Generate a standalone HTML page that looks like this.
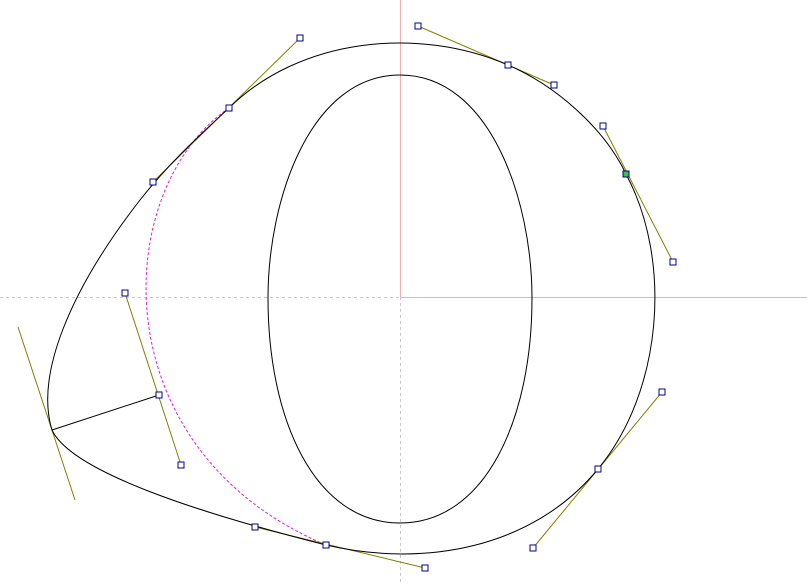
<!DOCTYPE html>
<html><head><meta charset="utf-8"><style>html,body{margin:0;padding:0;background:#fff}svg{display:block}</style></head>
<body>
<svg width="807" height="585" viewBox="0 0 807 585" xmlns="http://www.w3.org/2000/svg">
<g>
<line x1="0" y1="297.5" x2="400" y2="297.5" stroke="#c8c8c8" stroke-dasharray="3,3"/>
<line x1="400" y1="297.5" x2="807" y2="297.5" stroke="#f0b0b0"/>
<line x1="400.5" y1="0" x2="400.5" y2="297" stroke="#f0b0b0"/>
<line x1="400.5" y1="297" x2="400.5" y2="585" stroke="#c8c8c8" stroke-dasharray="3,3"/>
</g>
<path d="M229,108 C110,190 100,450 326,545" fill="none" stroke="#e020e0" stroke-dasharray="3,2"/>
<g stroke="#808000" stroke-width="1">
<line x1="153" y1="182" x2="300" y2="38"/>
<line x1="418" y1="26" x2="554" y2="85"/>
<line x1="603" y1="126" x2="673" y2="262"/>
<line x1="662" y1="392" x2="533" y2="548"/>
<line x1="255" y1="527" x2="425" y2="568"/>
<line x1="125" y1="293" x2="181" y2="465"/>
<line x1="18" y1="327" x2="75" y2="500"/>
</g>
<line x1="52" y1="430" x2="159" y2="395" stroke="#000"/>
<path d="M229,108 C300,38 418,26 508,65 C554,85 603,126 626,174 C673,262 662,392 598,469 C533,548 425,568 326,545 C255,527 75,480 52,430 C35,375 70,290 140,200 C170,162 200,135 229,108 Z" fill="none" stroke="#000"/>
<path d="M400,75 C490,75 532,200 532,298 C532,420 485,523 400,523 C315,523 268,420 268,298 C268,200 310,75 400,75 Z" fill="none" stroke="#000"/>
<g fill="#fff" stroke="#00008b">
<rect x="150" y="179" width="6" height="6"/>
<rect x="297" y="35" width="6" height="6"/>
<rect x="226" y="105" width="6" height="6"/>
<rect x="415" y="23" width="6" height="6"/>
<rect x="505" y="62" width="6" height="6"/>
<rect x="551" y="82" width="6" height="6"/>
<rect x="600" y="123" width="6" height="6"/>
<rect x="623" y="171" width="6" height="6" fill="#40c040"/>
<rect x="670" y="259" width="6" height="6"/>
<rect x="659" y="389" width="6" height="6"/>
<rect x="595" y="466" width="6" height="6"/>
<rect x="530" y="545" width="6" height="6"/>
<rect x="422" y="565" width="6" height="6"/>
<rect x="323" y="542" width="6" height="6"/>
<rect x="252" y="524" width="6" height="6"/>
<rect x="122" y="290" width="6" height="6"/>
<rect x="156" y="392" width="6" height="6"/>
<rect x="178" y="462" width="6" height="6"/>
</g>
</svg>
</body></html>
